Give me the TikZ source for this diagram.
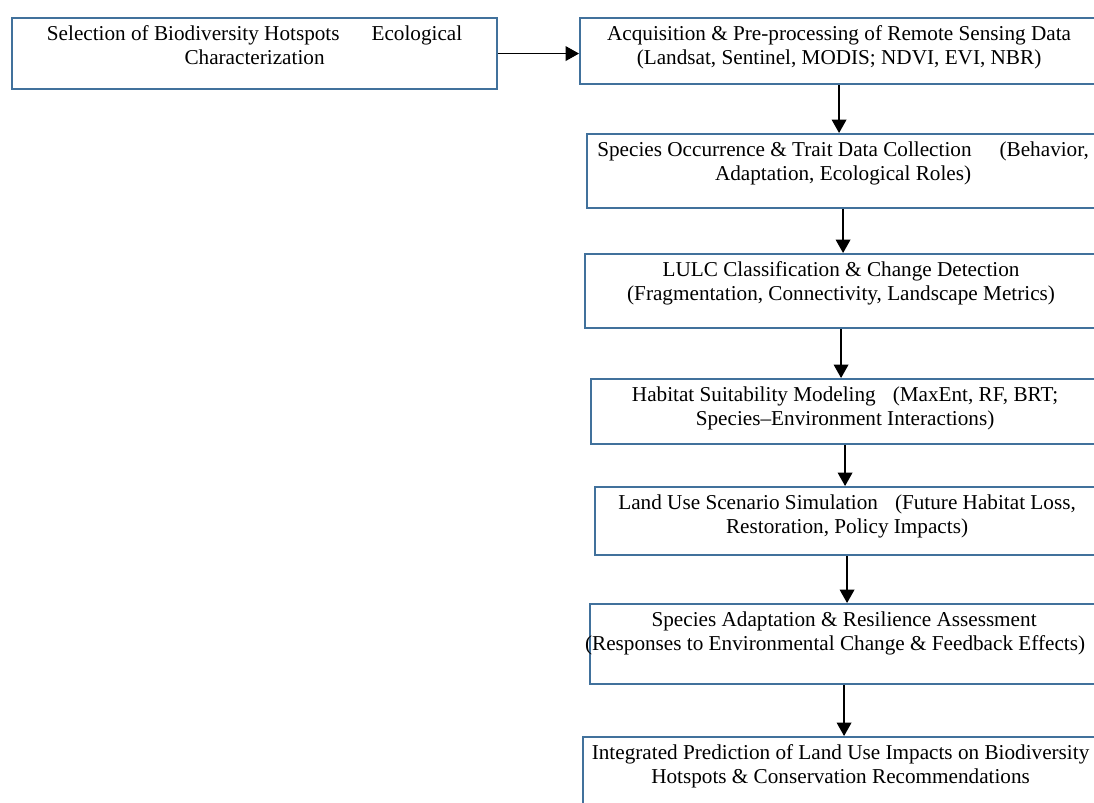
\documentclass[tikz,border=0pt]{standalone}
\usepackage{fontspec}
\setmainfont{Liberation Serif}
\usetikzlibrary{arrows.meta}
\definecolor{boxblue}{RGB}{65,113,156}
\newlength\unitpx
\setlength\unitpx{0.75pt}
\newcommand\boxtext[3]{\parbox[t][#1\unitpx][t]{#2\unitpx}{\centering\rule{0pt}{22\unitpx}#3}}

\begin{document}
\begin{tikzpicture}[x=0.75pt, y=-0.75pt,
    every node/.style={draw=boxblue, line width=1.6pt, inner sep=0pt, anchor=north west,
      font=\fontsize{15.9pt}{18.2pt}\selectfont},
    arr/.style={-{Triangle[length=10pt,width=11pt]}, line width=0.9pt}]
  \useasboundingbox (0,0) rectangle (1094,802);
  \clip (0,0) rectangle (1094,802);
  % stages
  \node (sel) at (11,17) {\boxtext{71}{485}{Selection of Biodiversity Hotspots\hspace{32\unitpx}Ecological\\Characterization}};
  \node (acq) at (579,17) {\boxtext{66}{518}{Acquisition \& Pre-processing of Remote Sensing Data\\(Landsat, Sentinel, MODIS; NDVI, EVI, NBR)}};
  \node (occ) at (586,133) {\boxtext{74}{512}{Species Occurrence \& Trait Data Collection\hspace{28\unitpx}(Behavior,\\Adaptation, Ecological Roles)}};
  \node (lulc) at (584,253) {\boxtext{74}{512}{LULC Classification \& Change Detection\\(Fragmentation, Connectivity, Landscape Metrics)}};
  \node (hsm) at (590,378) {\boxtext{65}{508}{Habitat Suitability Modeling\hspace{17\unitpx}(MaxEnt, RF, BRT;\\Species--Environment Interactions)}};
  \node (lus) at (594,486) {\boxtext{68}{504}{Land Use Scenario Simulation\hspace{17\unitpx}(Future Habitat Loss,\\Restoration, Policy Impacts)}};
  \node (sar) at (589,603) {\boxtext{80}{508}{Species Adaptation \& Resilience Assessment\\\hspace*{-18\unitpx}\makebox[0pt]{(Responses to Environmental Change \& Feedback Effects)}}};
  \node (ipl) at (582,736) {\boxtext{80}{515}{Integrated Prediction of Land Use Impacts on Biodiversity\\Hotspots \& Conservation Recommendations}};
  % arrows
  \draw[arr] (sel.east) -- (sel.east -| acq.west);
  \draw[arr] (acq.south) -- (acq.south |- occ.north);
  \draw[arr] (occ.south) -- (occ.south |- lulc.north);
  \draw[arr] (lulc.south) -- (lulc.south |- hsm.north);
  \draw[arr] (hsm.south) -- (hsm.south |- lus.north);
  \draw[arr] (lus.south) -- (lus.south |- sar.north);
  \draw[arr] (sar.south) -- (sar.south |- ipl.north);
\end{tikzpicture}
\end{document}
